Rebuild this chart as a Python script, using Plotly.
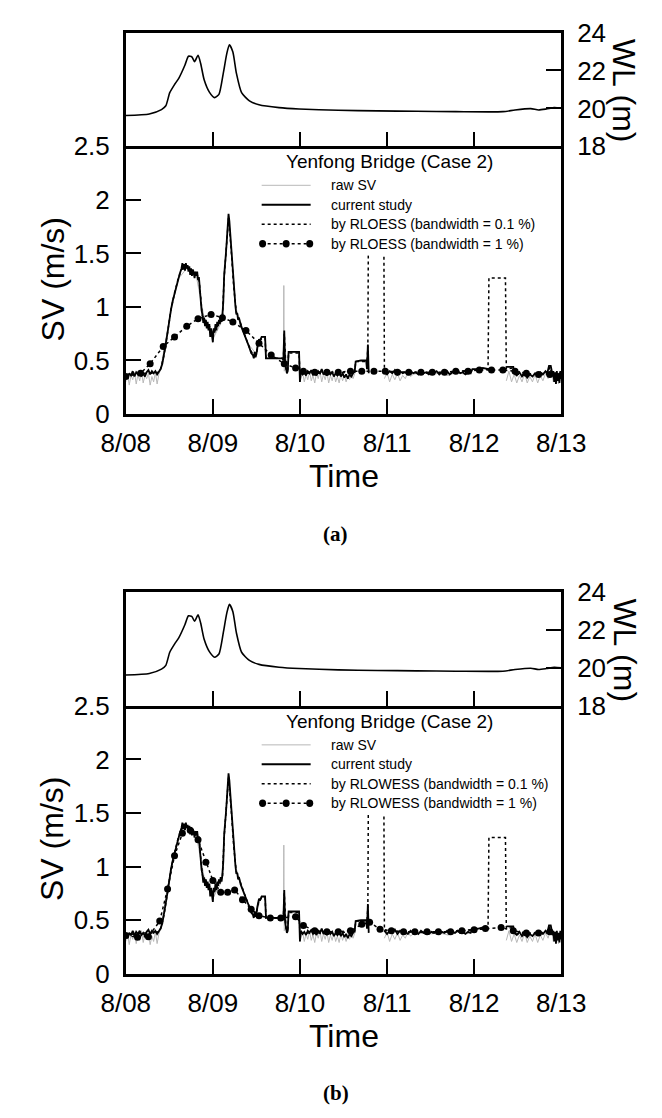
import plotly.graph_objects as go

# ---------------- data (time in days after 8/08 00:00) ----------------
day_ticks = [0, 1, 2, 3, 4, 5]
day_labels = ["8/08", "8/09", "8/10", "8/11", "8/12", "8/13"]
sv_ticks = [0, 0.5, 1, 1.5, 2, 2.5]
sv_labels = ["0", "0.5", "1", "1.5", "2", "2.5"]
wl_ticks = [18, 20, 22, 24]
wl_labels = ["18", "20", "22", "24"]

wl_t = [0.00, 0.27, 0.41, 0.46, 0.505, 0.56, 0.61, 0.68, 0.72, 0.76, 0.79, 0.83, 0.86, 0.90,
        0.96, 1.02, 1.07, 1.12, 1.16, 1.19, 1.23, 1.27, 1.33, 1.42, 1.53, 1.76, 1.99, 2.44,
        2.89, 3.34, 3.79, 4.33, 4.47, 4.65, 4.74, 4.83, 4.92, 5.00]
wl_v = [19.63, 19.71, 19.94, 20.14, 20.83, 21.26, 21.60, 22.29, 22.75, 22.71, 22.46, 22.80, 22.37, 21.51,
        20.86, 20.57, 20.74, 21.86, 22.89, 23.35, 22.97, 21.86, 20.83, 20.40, 20.19, 20.04, 19.97, 19.90,
        19.87, 19.85, 19.83, 19.83, 19.92, 19.99, 19.92, 19.97, 20.04, 20.01]

# current study
cs_t = [0.00, 0.02, 0.04, 0.06, 0.08, 0.10, 0.12, 0.14, 0.16, 0.18, 0.20, 0.22, 0.24, 0.26, 0.28, 0.30,
        0.32, 0.34, 0.36, 0.38, 0.40, 0.42, 0.44, 0.46, 0.48, 0.50, 0.52, 0.54, 0.56, 0.58, 0.60, 0.62,
        0.64, 0.65, 0.66, 0.67, 0.68, 0.69, 0.70, 0.71, 0.72, 0.73, 0.74, 0.75, 0.76, 0.77, 0.78, 0.79,
        0.80, 0.81, 0.82, 0.83, 0.84, 0.85, 0.86, 0.87, 0.88, 0.89, 0.90, 0.91, 0.92, 0.93, 0.94, 0.95,
        0.96, 0.97, 0.98, 0.99, 1.00, 1.01, 1.02, 1.03, 1.04, 1.05, 1.06, 1.07, 1.08, 1.09, 1.10, 1.11,
        1.12, 1.13, 1.14, 1.15, 1.16, 1.17, 1.18, 1.19, 1.20, 1.21, 1.22, 1.23, 1.24, 1.25, 1.26, 1.27,
        1.28, 1.29, 1.30, 1.32, 1.34, 1.36, 1.38, 1.40, 1.42, 1.44, 1.46, 1.47, 1.48, 1.49, 1.50, 1.51,
        1.52, 1.53, 1.54, 1.55, 1.56, 1.58, 1.60, 1.61, 1.70, 1.80, 1.81, 1.82, 1.83, 1.84, 1.85, 1.86,
        1.87, 1.93, 1.99, 2.00, 2.01, 2.03, 2.05, 2.07, 2.09, 2.11, 2.13, 2.15, 2.17, 2.19, 2.21, 2.23,
        2.25, 2.27, 2.29, 2.31, 2.33, 2.35, 2.37, 2.39, 2.41, 2.43, 2.45, 2.47, 2.49, 2.51, 2.53, 2.55,
        2.57, 2.59, 2.61, 2.63, 2.64, 2.70, 2.76, 2.77, 2.78, 2.79, 2.80, 2.97, 3.00, 3.03, 3.06, 3.09,
        3.12, 3.15, 3.18, 3.21, 3.24, 3.27, 3.30, 3.33, 3.36, 3.39, 3.42, 3.45, 3.48, 3.51, 3.54, 3.57,
        3.60, 3.63, 3.66, 3.69, 3.72, 3.75, 3.78, 3.81, 3.84, 3.87, 3.90, 3.93, 3.96, 3.98, 4.05, 4.10,
        4.17, 4.18, 4.37, 4.45, 4.46, 4.49, 4.52, 4.55, 4.58, 4.61, 4.64, 4.67, 4.70, 4.73, 4.76, 4.79,
        4.82, 4.84, 4.86, 4.88, 4.89, 4.90, 4.91, 4.92, 4.93, 4.94, 4.95, 4.96, 4.97, 4.98, 4.99, 5.00]
cs_v = [0.37, 0.33, 0.38, 0.36, 0.40, 0.35, 0.39, 0.37, 0.40, 0.36, 0.38, 0.35, 0.39, 0.41, 0.37, 0.40,
        0.38, 0.40, 0.37, 0.39, 0.42, 0.47, 0.55, 0.66, 0.76, 0.88, 0.98, 1.06, 1.13, 1.20, 1.26, 1.31,
        1.36, 1.41, 1.35, 1.40, 1.34, 1.41, 1.36, 1.39, 1.33, 1.38, 1.30, 1.36, 1.29, 1.35, 1.32, 1.27,
        1.33, 1.29, 1.33, 1.25, 1.28, 1.15, 1.05, 0.97, 0.93, 0.85, 0.90, 0.82, 0.88, 0.80, 0.86, 0.78,
        0.84, 0.72, 0.80, 0.75, 0.67, 0.80, 0.76, 0.84, 0.78, 0.86, 0.82, 0.88, 0.84, 0.90, 0.86, 0.92,
        1.05, 1.30, 1.45, 1.50, 1.62, 1.76, 1.87, 1.80, 1.68, 1.55, 1.42, 1.30, 1.18, 1.08, 1.00, 0.93,
        0.94, 0.88, 0.90, 0.83, 0.79, 0.74, 0.71, 0.66, 0.62, 0.57, 0.55, 0.52, 0.58, 0.53, 0.56, 0.62,
        0.67, 0.70, 0.68, 0.71, 0.72, 0.72, 0.72, 0.52, 0.52, 0.52, 0.50, 0.78, 0.48, 0.42, 0.38, 0.40,
        0.58, 0.58, 0.58, 0.30, 0.40, 0.37, 0.39, 0.36, 0.40, 0.38, 0.41, 0.37, 0.39, 0.36, 0.40, 0.38,
        0.42, 0.37, 0.39, 0.36, 0.40, 0.37, 0.39, 0.35, 0.38, 0.36, 0.39, 0.35, 0.38, 0.34, 0.37, 0.33,
        0.37, 0.35, 0.38, 0.41, 0.49, 0.50, 0.50, 0.42, 0.65, 0.38, None, 0.40, 0.37, 0.40, 0.38, 0.41,
        0.37, 0.40, 0.38, 0.39, 0.37, 0.40, 0.38, 0.39, 0.37, 0.40, 0.38, 0.39, 0.37, 0.39, 0.38, 0.40,
        0.37, 0.39, 0.38, 0.40, 0.37, 0.39, 0.38, 0.40, 0.38, 0.39, 0.37, 0.39, 0.38, 0.42, 0.42, 0.43,
        0.42, None, 0.44, 0.44, 0.38, 0.36, 0.39, 0.35, 0.38, 0.34, 0.37, 0.35, 0.38, 0.36, 0.39, 0.37,
        0.40, 0.38, 0.45, 0.45, 0.41, 0.36, 0.40, 0.30, 0.39, 0.28, 0.40, 0.31, 0.38, 0.29, 0.40, 0.33]

# raw SV
raw_t = [0.00, 0.02, 0.04, 0.06, 0.08, 0.10, 0.12, 0.14, 0.16, 0.18, 0.20, 0.22, 0.24, 0.26, 0.28, 0.30,
         0.32, 0.34, 0.36, 0.38, 0.40, 0.50, 0.60, 0.70, 0.80, 0.90, 1.00, 1.10, 1.18, 1.26, 1.40, 1.50,
         1.55, 1.60, 1.61, 1.81, 1.815, 1.82, 1.87, 1.99, 2.00, 2.01, 2.03, 2.05, 2.07, 2.09, 2.11, 2.13,
         2.15, 2.17, 2.19, 2.21, 2.23, 2.25, 2.27, 2.29, 2.31, 2.33, 2.35, 2.37, 2.39, 2.41, 2.43, 2.45,
         2.47, 2.49, 2.51, 2.53, 2.55, 2.57, 2.59, 2.61, 2.63, 2.64, 2.78, 2.79, 2.97, 3.00, 3.03, 3.06,
         3.09, 3.12, 3.15, 3.18, 3.21, 3.24, 3.27, 3.30, 3.40, 3.50, 3.60, 3.70, 3.80, 3.90, 3.96, 3.98,
         4.17, 4.18, 4.37, 4.40, 4.43, 4.46, 4.49, 4.52, 4.55, 4.58, 4.61, 4.64, 4.67, 4.70, 4.73, 4.76,
         4.79, 4.82, 4.85, 4.88, 4.91, 4.94, 4.97, 5.00]
raw_v = [0.30, 0.38, 0.27, 0.36, 0.32, 0.39, 0.28, 0.37, 0.31, 0.40, 0.29, 0.36, 0.33, 0.38, 0.27, 0.35,
         0.30, 0.39, 0.28, 0.37, 0.42, 0.88, 1.26, 1.36, 1.33, 0.90, 0.70, 0.86, 1.85, 1.00, 0.66, 0.56,
         0.71, 0.72, 0.52, 0.52, 1.20, 0.40, 0.58, 0.58, 0.30, 0.33, 0.39, 0.30, 0.37, 0.32, 0.40, 0.31,
         0.36, 0.29, 0.38, 0.33, 0.40, 0.30, 0.37, 0.32, 0.39, 0.29, 0.36, 0.31, 0.38, 0.30, 0.35, 0.29,
         0.37, 0.31, 0.36, 0.30, 0.35, 0.32, 0.37, 0.33, 0.38, 0.49, 0.50, None, 0.33, 0.39, 0.30, 0.37,
         0.32, 0.38, 0.31, 0.36, 0.33, 0.39, 0.35, 0.37, 0.39, 0.37, 0.38, 0.36, 0.39, 0.37, 0.38, 0.42,
         0.42, None, 0.31, 0.40, 0.30, 0.37, 0.29, 0.36, 0.30, 0.38, 0.29, 0.35, 0.30, 0.37, 0.29, 0.36,
         0.31, 0.38, 0.33, 0.44, 0.30, 0.39, 0.28, 0.36]

# robust smoothing, bandwidth = 0.1 %  (same in both panels)
bw01_t = [0.00, 0.10, 0.20, 0.30, 0.38, 0.40, 0.44, 0.48, 0.52, 0.56, 0.60, 0.64, 0.70, 0.76, 0.82, 0.84,
          0.86, 0.88, 0.92, 0.96, 1.00, 1.04, 1.08, 1.11, 1.13, 1.15, 1.18, 1.21, 1.24, 1.27, 1.30, 1.36,
          1.42, 1.47, 1.50, 1.53, 1.58, 1.60, 1.61, 1.81, 1.82, 1.84, 1.86, 1.87, 1.99, 2.00, 2.30, 2.63,
          2.64, 2.77, 2.78, 2.79, 2.96, 2.97, 3.50, 3.98, 4.16, 4.17, 4.36, 4.37, 4.45, 4.46, 4.85, 4.87,
          4.90, 5.00]
bw01_v = [0.36, 0.37, 0.38, 0.38, 0.39, 0.42, 0.55, 0.76, 0.98, 1.13, 1.26, 1.35, 1.37, 1.32, 1.30, 1.27,
          1.05, 0.92, 0.86, 0.82, 0.75, 0.80, 0.85, 0.90, 1.28, 1.50, 1.83, 1.54, 1.18, 0.95, 0.89, 0.75,
          0.62, 0.54, 0.56, 0.69, 0.71, 0.71, 0.52, 0.52, 0.75, 0.42, 0.40, 0.57, 0.57, 0.38, 0.38, 0.39,
          0.49, 0.49, 0.62, 2.40, 2.40, 0.40, 0.38, 0.41, 0.42, 1.27, 1.27, 0.42, 0.43, 0.37, 0.38, 0.44,
          0.36, 0.35]

# bandwidth = 1 %, panel (a) RLOESS
a1_t = [0.00, 0.17, 0.28, 0.43, 0.56, 0.70, 0.83, 0.98, 1.11, 1.23, 1.38, 1.53, 1.67, 1.82, 1.95, 2.04,
        2.17, 2.31, 2.44, 2.58, 2.71, 2.85, 2.98, 3.12, 3.25, 3.39, 3.52, 3.66, 3.79, 3.93, 4.06, 4.20,
        4.33, 4.47, 4.60, 4.74, 4.87, 5.00]
a1_v = [0.35, 0.38, 0.47, 0.63, 0.72, 0.82, 0.89, 0.93, 0.90, 0.86, 0.78, 0.66, 0.55, 0.47, 0.43, 0.40,
        0.39, 0.39, 0.39, 0.40, 0.40, 0.40, 0.40, 0.39, 0.39, 0.39, 0.39, 0.39, 0.40, 0.40, 0.41, 0.41,
        0.41, 0.40, 0.38, 0.37, 0.37, 0.36]

# bandwidth = 1 %, panel (b) RLOWESS
b1_t = [0.00, 0.135, 0.26, 0.39, 0.48, 0.56, 0.65, 0.74, 0.83, 0.92, 1.00, 1.09, 1.17, 1.25, 1.34, 1.44,
        1.53, 1.66, 1.78, 1.95, 2.04, 2.17, 2.31, 2.44, 2.58, 2.71, 2.80, 2.92, 3.05, 3.19, 3.32, 3.46,
        3.59, 3.73, 3.86, 4.00, 4.13, 4.31, 4.45, 4.60, 4.74, 4.87, 5.00]
b1_v = [0.355, 0.34, 0.345, 0.49, 0.79, 1.10, 1.31, 1.34, 1.25, 1.04, 0.87, 0.76, 0.76, 0.78, 0.69, 0.60,
        0.54, 0.52, 0.52, 0.53, 0.45, 0.40, 0.39, 0.39, 0.40, 0.46, 0.48, 0.415, 0.40, 0.39, 0.39, 0.39,
        0.39, 0.39, 0.40, 0.41, 0.42, 0.43, 0.40, 0.38, 0.38, 0.39, 0.35]

panels = [
    dict(name="a", off=0, method="RLOESS", s1_t=a1_t, s1_v=a1_v),
    dict(name="b", off=575, method="RLOWESS", s1_t=b1_t, s1_v=b1_v),
]

# ---------------- figure ----------------
W, H = 662, 1118
FONT = "Liberation Sans, Arial, sans-serif"


def px(x):
    return x / W


def py(y):
    return 1 - y / H


def note(text, x, y, size, angle=0, xanchor="center", family=FONT):
    return dict(text=text, x=px(x), y=py(y), textangle=angle, showarrow=False,
                xref="paper", yref="paper", xanchor=xanchor, yanchor="middle",
                font=dict(family=family, size=size, color="black"))


fig = go.Figure()
shapes, annotations = [], []
layout = {}

X0, X1 = 109, 580
for i, p in enumerate(panels):
    off = p["off"]
    sv_ax, wl_ax = 2 * i + 1, 2 * i + 2
    xs = "x" if sv_ax == 1 else f"x{sv_ax}"
    ys = "y" if sv_ax == 1 else f"y{sv_ax}"
    xw, yw = f"x{wl_ax}", f"y{wl_ax}"

    # traces
    fig.add_trace(go.Scatter(x=raw_t, y=raw_v, mode="lines", xaxis=xs, yaxis=ys,
                             line=dict(color="#b8b8b8", width=1), showlegend=False))
    fig.add_trace(go.Scatter(x=p["s1_t"], y=p["s1_v"], mode="lines+markers", xaxis=xs, yaxis=ys,
                             line=dict(color="black", width=1.5, dash="3px,3px"),
                             marker=dict(color="black", size=7), showlegend=False))
    fig.add_trace(go.Scatter(x=bw01_t, y=bw01_v, mode="lines", xaxis=xs, yaxis=ys,
                             line=dict(color="black", width=1.5, dash="dot"), showlegend=False))
    fig.add_trace(go.Scatter(x=cs_t, y=cs_v, mode="lines", xaxis=xs, yaxis=ys,
                             line=dict(color="black", width=1.8), connectgaps=False, showlegend=False))
    fig.add_trace(go.Scatter(x=wl_t, y=wl_v, mode="lines", xaxis=xw, yaxis=yw,
                             line=dict(color="black", width=1.6, shape="spline", smoothing=0.6),
                             showlegend=False))

    axcommon = dict(showgrid=False, zeroline=False, showline=True, linecolor="black", linewidth=2.5,
                    mirror=True, ticks="inside", ticklen=15, tickwidth=2, tickcolor="black",
                    tickfont=dict(family=FONT, size=26, color="black"))
    key_xs = "xaxis" if sv_ax == 1 else f"xaxis{sv_ax}"
    key_ys = "yaxis" if sv_ax == 1 else f"yaxis{sv_ax}"
    layout[key_xs] = dict(axcommon, mirror=False, domain=[px(X0), px(X1)], range=[0, 5], anchor=ys,
                          tickmode="array", tickvals=day_ticks, ticktext=day_labels,
                          ticklabelstandoff=4)
    layout[f"xaxis{wl_ax}"] = dict(axcommon, domain=[px(X0), px(X1)], range=[0, 5], anchor=yw,
                                   tickmode="array", tickvals=day_ticks, showticklabels=False)
    layout[key_ys] = dict(axcommon, domain=[py(410 + off), py(135 + off)], range=[0, 2.5], anchor=xs,
                          tickmode="array", tickvals=sv_ticks, ticktext=sv_labels, ticklabelstandoff=8)
    layout[f"yaxis{wl_ax}"] = dict(axcommon, domain=[py(135 + off), py(18 + off)], range=[18, 24],
                                   anchor=xw, side="right", tickmode="array", tickvals=wl_ticks,
                                   ticktext=wl_labels, ticklabelstandoff=8)

    # axis titles and panel label
    annotations += [
        note("SV (m/s)", 30, 272 + off, 32, angle=-90),
        note("WL (m)", 648, 78 + off, 32, angle=90),
        note("Time", 345, 474 + off, 32),
        note(f"<b>({p['name']})</b>", 336, 533 + off, 21,
             family="Liberation Serif, DejaVu Serif, serif"),
    ]

    # legend block (white box with samples)
    shapes.append(dict(type="rect", xref="paper", yref="paper", x0=px(250), x1=px(512),
                       y0=py(247 + off), y1=py(139 + off), fillcolor="white",
                       line=dict(width=0), layer="above"))
    annotations.append(note("Yenfong Bridge (Case 2)", 394, 151 + off, 19))
    entries = [
        ("raw SV", dict(color="#b8b8b8", width=1), False),
        ("current study", dict(color="black", width=2), False),
        (f"by {p['method']} (bandwidth = 0.1 %)", dict(color="black", width=1.5, dash="dot"), False),
        (f"by {p['method']} (bandwidth = 1 %)", dict(color="black", width=1.5, dash="3px,3px"), True),
    ]
    for k, (label, ln, dots) in enumerate(entries):
        yy = 175 + 20 * k + off
        shapes.append(dict(type="line", xref="paper", yref="paper", x0=px(256), x1=px(309),
                           y0=py(yy), y1=py(yy), line=ln, layer="above"))
        if dots:
            for cx in (257, 282.5, 308):
                shapes.append(dict(type="circle", xref="paper", yref="paper",
                                   x0=px(cx - 3.8), x1=px(cx + 3.8), y0=py(yy + 3.8), y1=py(yy - 3.8),
                                   fillcolor="black", line=dict(width=0), layer="above"))
        annotations.append(note(label, 329, yy, 14, xanchor="left"))

fig.update_layout(
    width=W, height=H, margin=dict(l=0, r=0, t=0, b=0),
    paper_bgcolor="white", plot_bgcolor="white",
    showlegend=False, shapes=shapes, annotations=annotations,
    font=dict(family=FONT, color="black"),
    **layout,
)

fig.write_html("out.html")
